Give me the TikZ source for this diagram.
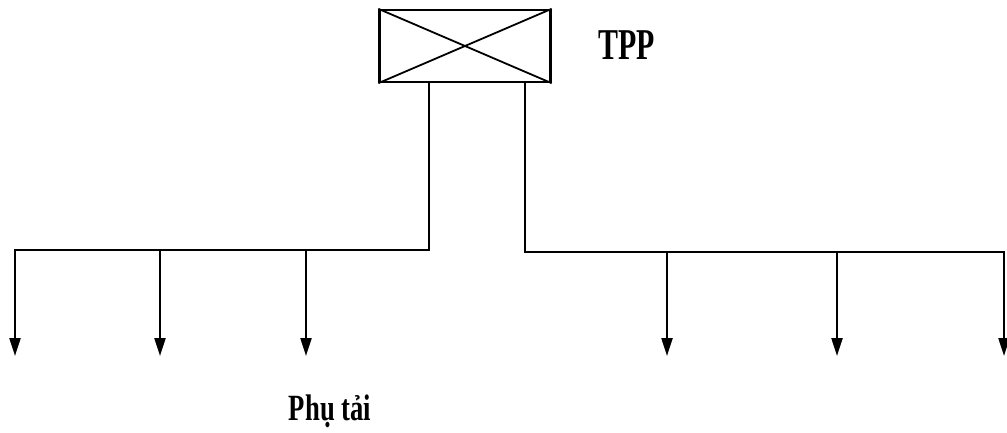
\documentclass[tikz,border=0pt]{standalone}
\usepackage{fontspec}
\setmainfont{Liberation Serif}
\usetikzlibrary{arrows.meta}
\begin{document}
\begin{tikzpicture}[x=1pt,y=-1pt,
  wire/.style={line width=2.2pt,line cap=rect},
  drop/.style={line width=2.2pt,-{Triangle[length=18pt,width=11pt]}},
  lbl/.style={font=\bfseries, inner sep=0pt}]
\useasboundingbox (0,0) rectangle (1007,432);
\node[draw,line width=2.4pt,minimum width=171pt,minimum height=72pt,inner sep=0pt] (tpp) at (465,46) {};
\draw[line width=1.8pt] (tpp.north west) -- (tpp.south east);
\draw[line width=1.8pt] (tpp.south west) -- (tpp.north east);
\node[lbl,xscale=0.68,font=\fontsize{44}{44}\bfseries\selectfont] (tpplbl) at (627,45) {TPP};
% left feeder
\coordinate (l0) at (429,82);
\coordinate (lc) at (429,250);
\coordinate (l1) at (15,250);
\coordinate (l2) at (160,250);
\coordinate (l3) at (306,250);
\coordinate (a1) at (15,356);
\coordinate (a2) at (160,356);
\coordinate (a3) at (306,356);
\draw[wire] (l0) -- (lc) -- (l1);
\draw[drop] (l1) -- (a1);
\draw[drop] (l2) -- (a2);
\draw[drop] (l3) -- (a3);
% right feeder
\coordinate (r0) at (525,82);
\coordinate (rc) at (525,252);
\coordinate (r1) at (667,252);
\coordinate (r2) at (837,252);
\coordinate (r3) at (1004,252);
\coordinate (b1) at (667,356);
\coordinate (b2) at (837,356);
\coordinate (b3) at (1004,356);
\draw[wire] (r0) -- (rc) -- (r3);
\draw[drop] (r1) -- (b1);
\draw[drop] (r2) -- (b2);
\draw[drop] (r3) -- (b3);
\node[lbl,xscale=0.72,font=\fontsize{37}{37}\bfseries\selectfont,anchor=base] (load) at (330,420) {Phụ tải};
\end{tikzpicture}
\end{document}
